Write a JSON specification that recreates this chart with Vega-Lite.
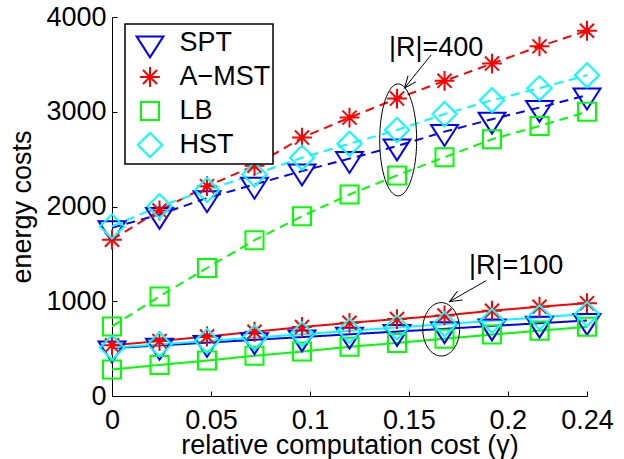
{
  "$schema": "https://vega.github.io/schema/vega-lite/v6.json",
  "width": 475,
  "height": 379,
  "autosize": "none",
  "padding": {"left": 112, "top": 17, "right": 37, "bottom": 63},
  "background": "white",
  "config": {
    "view": {"stroke": null},
    "font": "Liberation Sans",
    "axis": {
      "grid": false,
      "domainColor": "black",
      "domainWidth": 1,
      "tickColor": "black",
      "tickWidth": 1,
      "tickSize": -5,
      "labelColor": "black",
      "labelFont": "Liberation Sans",
      "labelFontSize": 27,
      "labelFlush": false,
      "labelOverlap": false,
      "titleColor": "black",
      "titleFont": "Liberation Sans",
      "titleFontSize": 27,
      "titleFontWeight": "normal"
    }
  },
  "datasets": {
    "costs": [
      {"gamma": 0, "cost": 1775, "method": "SPT", "R": "400"},
      {"gamma": 0.024, "cost": 1915, "method": "SPT", "R": "400"},
      {"gamma": 0.048, "cost": 2090, "method": "SPT", "R": "400"},
      {"gamma": 0.072, "cost": 2233, "method": "SPT", "R": "400"},
      {"gamma": 0.096, "cost": 2374, "method": "SPT", "R": "400"},
      {"gamma": 0.12, "cost": 2505, "method": "SPT", "R": "400"},
      {"gamma": 0.144, "cost": 2638, "method": "SPT", "R": "400"},
      {"gamma": 0.168, "cost": 2790, "method": "SPT", "R": "400"},
      {"gamma": 0.192, "cost": 2921, "method": "SPT", "R": "400"},
      {"gamma": 0.216, "cost": 3044, "method": "SPT", "R": "400"},
      {"gamma": 0.24, "cost": 3175, "method": "SPT", "R": "400"},
      {"gamma": 0, "cost": 1650, "method": "A−MST", "R": "400"},
      {"gamma": 0.024, "cost": 1958, "method": "A−MST", "R": "400"},
      {"gamma": 0.048, "cost": 2215, "method": "A−MST", "R": "400"},
      {"gamma": 0.072, "cost": 2430, "method": "A−MST", "R": "400"},
      {"gamma": 0.096, "cost": 2727, "method": "A−MST", "R": "400"},
      {"gamma": 0.12, "cost": 2938, "method": "A−MST", "R": "400"},
      {"gamma": 0.144, "cost": 3139, "method": "A−MST", "R": "400"},
      {"gamma": 0.168, "cost": 3326, "method": "A−MST", "R": "400"},
      {"gamma": 0.192, "cost": 3508, "method": "A−MST", "R": "400"},
      {"gamma": 0.216, "cost": 3690, "method": "A−MST", "R": "400"},
      {"gamma": 0.24, "cost": 3855, "method": "A−MST", "R": "400"},
      {"gamma": 0, "cost": 734, "method": "LB", "R": "400"},
      {"gamma": 0.024, "cost": 1051, "method": "LB", "R": "400"},
      {"gamma": 0.048, "cost": 1351, "method": "LB", "R": "400"},
      {"gamma": 0.072, "cost": 1644, "method": "LB", "R": "400"},
      {"gamma": 0.096, "cost": 1898, "method": "LB", "R": "400"},
      {"gamma": 0.12, "cost": 2127, "method": "LB", "R": "400"},
      {"gamma": 0.144, "cost": 2328, "method": "LB", "R": "400"},
      {"gamma": 0.168, "cost": 2520, "method": "LB", "R": "400"},
      {"gamma": 0.192, "cost": 2710, "method": "LB", "R": "400"},
      {"gamma": 0.216, "cost": 2850, "method": "LB", "R": "400"},
      {"gamma": 0.24, "cost": 3000, "method": "LB", "R": "400"},
      {"gamma": 0, "cost": 1790, "method": "HST", "R": "400"},
      {"gamma": 0.024, "cost": 2003, "method": "HST", "R": "400"},
      {"gamma": 0.048, "cost": 2173, "method": "HST", "R": "400"},
      {"gamma": 0.072, "cost": 2339, "method": "HST", "R": "400"},
      {"gamma": 0.096, "cost": 2515, "method": "HST", "R": "400"},
      {"gamma": 0.12, "cost": 2663, "method": "HST", "R": "400"},
      {"gamma": 0.144, "cost": 2808, "method": "HST", "R": "400"},
      {"gamma": 0.168, "cost": 2975, "method": "HST", "R": "400"},
      {"gamma": 0.192, "cost": 3122, "method": "HST", "R": "400"},
      {"gamma": 0.216, "cost": 3249, "method": "HST", "R": "400"},
      {"gamma": 0.24, "cost": 3386, "method": "HST", "R": "400"},
      {"gamma": 0, "cost": 505, "method": "SPT", "R": "100"},
      {"gamma": 0.024, "cost": 534, "method": "SPT", "R": "100"},
      {"gamma": 0.048, "cost": 563, "method": "SPT", "R": "100"},
      {"gamma": 0.072, "cost": 593, "method": "SPT", "R": "100"},
      {"gamma": 0.096, "cost": 622, "method": "SPT", "R": "100"},
      {"gamma": 0.12, "cost": 651, "method": "SPT", "R": "100"},
      {"gamma": 0.144, "cost": 680, "method": "SPT", "R": "100"},
      {"gamma": 0.168, "cost": 709, "method": "SPT", "R": "100"},
      {"gamma": 0.192, "cost": 739, "method": "SPT", "R": "100"},
      {"gamma": 0.216, "cost": 768, "method": "SPT", "R": "100"},
      {"gamma": 0.24, "cost": 797, "method": "SPT", "R": "100"},
      {"gamma": 0, "cost": 535, "method": "A−MST", "R": "100"},
      {"gamma": 0.024, "cost": 580, "method": "A−MST", "R": "100"},
      {"gamma": 0.048, "cost": 628, "method": "A−MST", "R": "100"},
      {"gamma": 0.072, "cost": 678, "method": "A−MST", "R": "100"},
      {"gamma": 0.096, "cost": 728, "method": "A−MST", "R": "100"},
      {"gamma": 0.12, "cost": 772, "method": "A−MST", "R": "100"},
      {"gamma": 0.144, "cost": 812, "method": "A−MST", "R": "100"},
      {"gamma": 0.168, "cost": 850, "method": "A−MST", "R": "100"},
      {"gamma": 0.192, "cost": 900, "method": "A−MST", "R": "100"},
      {"gamma": 0.216, "cost": 942, "method": "A−MST", "R": "100"},
      {"gamma": 0.24, "cost": 980, "method": "A−MST", "R": "100"},
      {"gamma": 0, "cost": 280, "method": "LB", "R": "100"},
      {"gamma": 0.024, "cost": 328, "method": "LB", "R": "100"},
      {"gamma": 0.048, "cost": 374, "method": "LB", "R": "100"},
      {"gamma": 0.072, "cost": 425, "method": "LB", "R": "100"},
      {"gamma": 0.096, "cost": 469, "method": "LB", "R": "100"},
      {"gamma": 0.12, "cost": 520, "method": "LB", "R": "100"},
      {"gamma": 0.144, "cost": 560, "method": "LB", "R": "100"},
      {"gamma": 0.168, "cost": 605, "method": "LB", "R": "100"},
      {"gamma": 0.192, "cost": 648, "method": "LB", "R": "100"},
      {"gamma": 0.216, "cost": 690, "method": "LB", "R": "100"},
      {"gamma": 0.24, "cost": 730, "method": "LB", "R": "100"},
      {"gamma": 0, "cost": 510, "method": "HST", "R": "100"},
      {"gamma": 0.024, "cost": 545, "method": "HST", "R": "100"},
      {"gamma": 0.048, "cost": 581, "method": "HST", "R": "100"},
      {"gamma": 0.072, "cost": 616, "method": "HST", "R": "100"},
      {"gamma": 0.096, "cost": 652, "method": "HST", "R": "100"},
      {"gamma": 0.12, "cost": 688, "method": "HST", "R": "100"},
      {"gamma": 0.144, "cost": 723, "method": "HST", "R": "100"},
      {"gamma": 0.168, "cost": 758, "method": "HST", "R": "100"},
      {"gamma": 0.192, "cost": 794, "method": "HST", "R": "100"},
      {"gamma": 0.216, "cost": 830, "method": "HST", "R": "100"},
      {"gamma": 0.24, "cost": 865, "method": "HST", "R": "100"}
    ],
    "notes": [
      {"item": "ellipse400", "gamma": 0.1446, "cost": 2703},
      {"item": "ellipse100", "gamma": 0.16633, "cost": 704},
      {"item": "arrow400", "gamma": 0.16128, "cost": 3601},
      {"item": "arrow400", "gamma": 0.14779, "cost": 3250},
      {"item": "arrow100", "gamma": 0.18907, "cost": 1218},
      {"item": "arrow100", "gamma": 0.17053, "cost": 996},
      {"item": "text", "gamma": 0.1638, "cost": 3591, "label": "|R|=400"},
      {"item": "text", "gamma": 0.20423, "cost": 1288, "label": "|R|=100"}
    ]
  },
  "layer": [
    {
      "data": {"name": "costs"},
      "mark": {"type": "line", "strokeWidth": 2},
      "encoding": {
        "x": {
          "field": "gamma", "type": "quantitative",
          "scale": {"domain": [0, 0.24], "nice": false},
          "axis": {
            "values": [0, 0.05, 0.1, 0.15, 0.2, 0.24],
            "format": "~g",
            "labelPadding": 16,
            "title": "relative computation cost (γ)",
            "titleY": 57,
            "titleBaseline": "alphabetic"
          }
        },
        "y": {
          "field": "cost", "type": "quantitative",
          "scale": {"domain": [0, 4000], "nice": false},
          "axis": {
            "values": [0, 1000, 2000, 3000, 4000],
            "format": "d",
            "labelPadding": 11,
            "title": "energy costs",
            "titleAngle": 270,
            "titleX": -82,
            "titleY": 189.5,
            "titleAlign": "center",
            "titleBaseline": "alphabetic"
          }
        },
        "color": {
          "field": "method", "type": "nominal",
          "scale": {"domain": ["SPT", "A−MST", "LB", "HST"], "range": ["#0000ff", "#ff0000", "#00ff00", "#00ffff"]},
          "legend": {
            "orient": "none",
            "legendX": 13,
            "legendY": 7,
            "title": null,
            "padding": 2,
            "strokeColor": "black",
            "fillColor": "white",
            "labelFont": "Liberation Sans",
            "labelFontSize": 27,
            "labelColor": "black",
            "labelOffset": 16,
            "symbolOffset": 9.5,
            "rowPadding": 0,
            "clipHeight": 34,
            "symbolSize": 484,
            "symbolStrokeWidth": 2,
            "encode": {
              "legend": {"update": {"strokeWidth": {"value": 1.5}}},
              "symbols": {
                "update": {
                  "fill": {"value": "transparent"},
                  "strokeWidth": {"value": 2},
                  "shape": {"signal": "datum.value === 'SPT' ? 'M-2.9,0L-2.87,0M2.87,0L2.9,0M-2.09,0H2.09M-1.22,-0.6H1.22L0,1.3Z' : datum.value === 'LB' ? 'M-2.9,0L-2.87,0M2.87,0L2.9,0M-2.09,0H2.09M-0.82,-0.82H0.82V0.82H-0.82Z' : datum.value === 'HST' ? 'M-2.9,0L-2.87,0M2.87,0L2.9,0M-2.09,0H2.09M-1.1,0L0,-1.1L1.1,0L0,1.1Z' : 'M-2.9,0L-2.87,0M2.87,0L2.9,0M-2.09,0H2.09M0,-0.9V0.9M-0.64,-0.64L0.64,0.64M-0.64,0.64L0.64,-0.64'"}
                }
              }
            }
          }
        },
        "strokeDash": {
          "field": "R", "type": "nominal",
          "scale": {"domain": ["400", "100"], "range": [[9, 6], [1, 0]]},
          "legend": null
        },
        "detail": {"field": "R"}
      }
    },
    {
      "data": {"name": "costs"},
      "mark": {"type": "point", "filled": false, "strokeWidth": 2, "size": 484, "opacity": 1},
      "encoding": {
        "x": {"field": "gamma", "type": "quantitative"},
        "y": {"field": "cost", "type": "quantitative"},
        "color": {"field": "method", "type": "nominal"},
        "shape": {
          "field": "method", "type": "nominal",
          "scale": {
            "domain": ["SPT", "A−MST", "LB", "HST"],
            "range": [
              "M0,-1.3M-1.22,-0.6H1.22L0,1.3Z",
              "M0,-0.9V0.9M-0.9,0H0.9M-0.64,-0.64L0.64,0.64M-0.64,0.64L0.64,-0.64",
              "M-0.82,-0.82H0.82V0.82H-0.82Z",
              "M-1.1,0L0,-1.1L1.1,0L0,1.1Z"
            ]
          },
          "legend": null
        }
      }
    },
    {
      "data": {"name": "notes"},
      "transform": [{"filter": "datum.item === 'ellipse400'"}],
      "mark": {"type": "point", "filled": false, "stroke": "black", "strokeWidth": 1, "opacity": 1, "size": 12544, "shape": "M0,-1A0.33,1 0 1,1 0,1A0.33,1 0 1,1 0,-1Z"},
      "encoding": {
        "x": {"field": "gamma", "type": "quantitative"},
        "y": {"field": "cost", "type": "quantitative"}
      }
    },
    {
      "data": {"name": "notes"},
      "transform": [{"filter": "datum.item === 'ellipse100'"}],
      "mark": {"type": "point", "filled": false, "stroke": "black", "strokeWidth": 1, "opacity": 1, "size": 2852, "shape": "M0,-1A0.69,1 0 1,1 0,1A0.69,1 0 1,1 0,-1Z"},
      "encoding": {
        "x": {"field": "gamma", "type": "quantitative"},
        "y": {"field": "cost", "type": "quantitative"}
      }
    },
    {
      "data": {"name": "notes"},
      "transform": [{"filter": "datum.item === 'arrow400' || datum.item === 'arrow100'"}],
      "mark": {"type": "line", "stroke": "black", "strokeWidth": 1},
      "encoding": {
        "x": {"field": "gamma", "type": "quantitative"},
        "y": {"field": "cost", "type": "quantitative"},
        "detail": {"field": "item"}
      }
    },
    {
      "data": {"name": "notes"},
      "transform": [{"filter": "datum.item === 'arrow400' && datum.cost < 3400"}],
      "mark": {"type": "point", "filled": false, "stroke": "black", "strokeWidth": 1, "opacity": 1, "size": 576, "angle": 128.7, "shape": "M-1,-0.42L0,0L-1,0.42M1,0"},
      "encoding": {
        "x": {"field": "gamma", "type": "quantitative"},
        "y": {"field": "cost", "type": "quantitative"}
      }
    },
    {
      "data": {"name": "notes"},
      "transform": [{"filter": "datum.item === 'arrow100' && datum.cost < 1100"}],
      "mark": {"type": "point", "filled": false, "stroke": "black", "strokeWidth": 1, "opacity": 1, "size": 576, "angle": 150.2, "shape": "M-1,-0.42L0,0L-1,0.42M1,0"},
      "encoding": {
        "x": {"field": "gamma", "type": "quantitative"},
        "y": {"field": "cost", "type": "quantitative"}
      }
    },
    {
      "data": {"name": "notes"},
      "transform": [{"filter": "datum.item === 'text'"}],
      "mark": {"type": "text", "font": "Liberation Sans", "fontSize": 27, "color": "black", "align": "center", "baseline": "alphabetic"},
      "encoding": {
        "x": {"field": "gamma", "type": "quantitative"},
        "y": {"field": "cost", "type": "quantitative"},
        "text": {"field": "label"}
      }
    }
  ]
}
